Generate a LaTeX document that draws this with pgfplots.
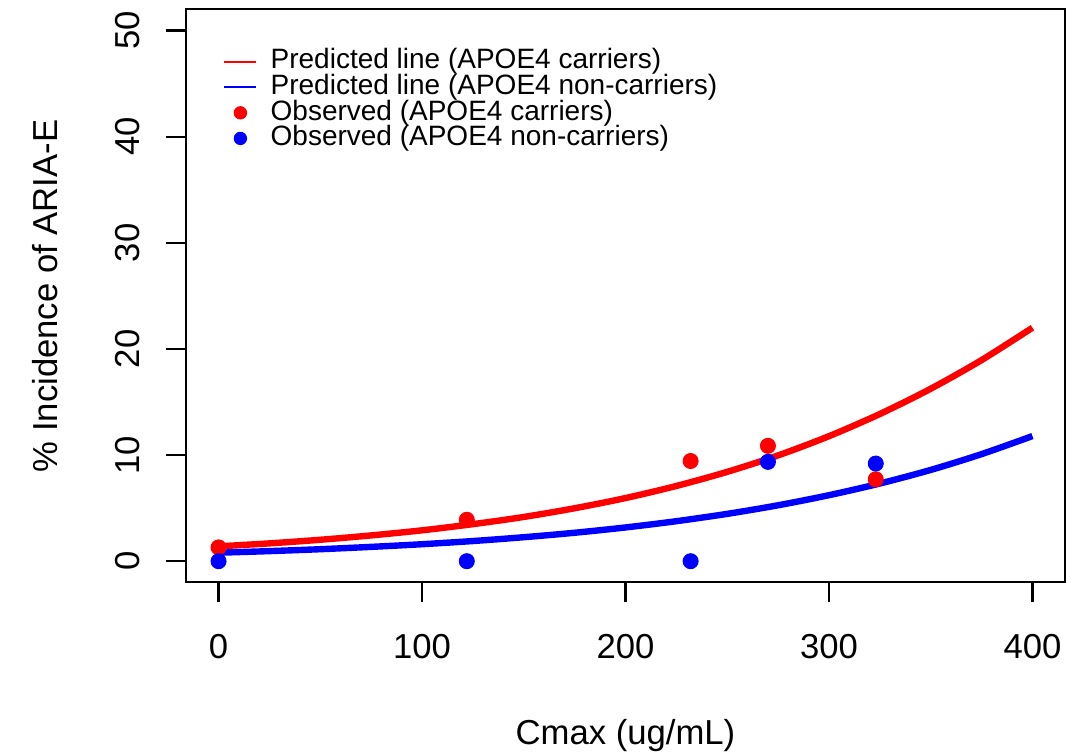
\documentclass[border=0pt]{standalone}
\usepackage{fontspec}
\setmainfont{Liberation Sans}
\usepackage{pgfplots}
\pgfplotsset{compat=1.18}
\usetikzlibrary{calc}

\begin{document}
\begin{tikzpicture}
\begin{axis}[
    name=ax,
    scale only axis,
    width=329.6pt, height=214.9pt,
    xmin=-16, xmax=416, ymin=-2, ymax=52,
    xtick={0,100,...,400}, ytick={0,10,...,50},
    xtick pos=bottom, ytick pos=left,
    tick align=outside,
    major tick length=7.5pt,
    tick style={black, line width=0.8pt},
    axis line style={line width=0.8pt},
    /pgf/number format/assume math mode=true,
    ticklabel style={font=\fontsize{13}{15}\selectfont},
    xticklabel style={yshift=-8.6pt},
    yticklabel style={xshift=-6.4pt, rotate=90, anchor=south},
    xlabel={Cmax (ug/mL)},
    ylabel={\% Incidence of ARIA-E},
    label style={font=\fontsize{13}{15}\selectfont},
    xlabel style={at={(axis description cs:0.5,-0.267)}, anchor=center},
    ylabel style={at={(axis description cs:-0.1605,0.5)}, anchor=center},
    legend style={draw=none, fill=none, inner sep=0pt,
        at={(axis description cs:0.042,0.932)}, anchor=north west,
        font=\fontsize{10.5}{9.6}\selectfont,
        nodes={inner sep=0pt, text height=7.5pt, text depth=2.1pt},
        column sep=5pt, row sep=0pt},
    legend cell align=left,
]
    % fitted curves
    \addplot[red, line width=2.4pt, smooth,
        legend image code/.code={\draw[red, line width=0.75pt] (0cm,0cm) -- (0.42cm,0cm);}]
        coordinates {(0,1.40) (25,1.68) (50,2.02) (75,2.43) (100,2.91) (125,3.49)
            (150,4.17) (175,4.99) (200,5.95) (225,7.09) (250,8.42) (275,9.97)
            (300,11.78) (325,13.87) (350,16.25) (375,18.95) (400,22.0)};
    \addplot[blue, line width=2.4pt, smooth,
        legend image code/.code={\draw[blue, line width=0.75pt] (0cm,0cm) -- (0.42cm,0cm);}]
        coordinates {(0,0.80) (25,0.95) (50,1.13) (75,1.35) (100,1.60) (125,1.90)
            (150,2.26) (175,2.68) (200,3.18) (225,3.77) (250,4.46) (275,5.27)
            (300,6.22) (325,7.32) (350,8.60) (375,10.09) (400,11.79)};

    % observed
    \addplot[only marks, mark=*, mark size=2.8pt, red, mark options={draw=red, fill=red},
        legend image code/.code={\draw[red, fill=red] (0.21cm,0cm) circle (2.3pt);}]
        coordinates {(0,1.3) (122,3.9) (232,9.44) (270,10.87) (323,7.72)};
    \addplot[only marks, mark=*, mark size=2.8pt, blue, mark options={draw=blue, fill=blue},
        legend image code/.code={\draw[blue, fill=blue] (0.21cm,0cm) circle (2.3pt);}]
        coordinates {(0,0) (122,0) (232,0) (270,9.36) (323,9.2)};

    \legend{Predicted line (APOE4 carriers), Predicted line (APOE4 non-carriers),
        Observed (APOE4 carriers), Observed (APOE4 non-carriers)}
\end{axis}
\pgfresetboundingbox
\path[use as bounding box] ($(ax.south west)+(-69.75pt,-63.75pt)$) rectangle ($(ax.north east)+(0.375pt,3.5pt)$);
\end{tikzpicture}
\end{document}
